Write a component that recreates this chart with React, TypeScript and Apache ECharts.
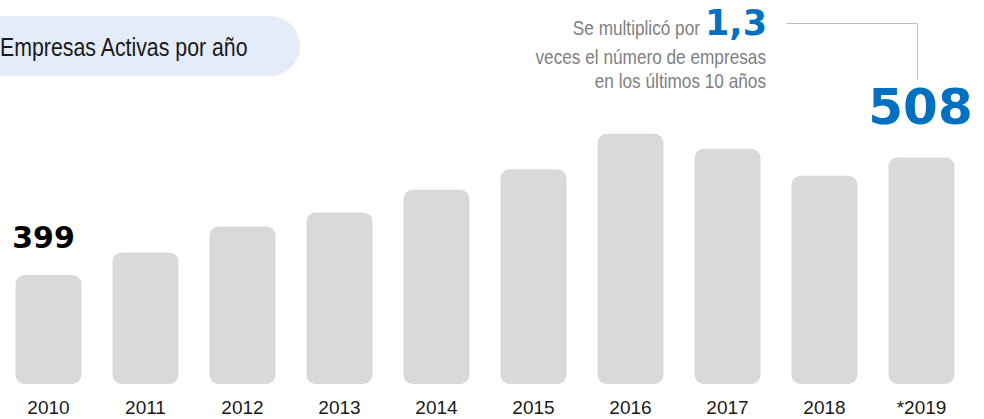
import React, { useEffect, useRef } from "react";
import * as echarts from "echarts";

const years = ["2010", "2011", "2012", "2013", "2014", "2015", "2016", "2017", "2018", "*2019"];
const empresas = [399, 420, 444, 457, 478, 497, 530, 516, 491, 508];
const titleText = "Empresas Activas por año";
const noteLine1 = "Se multiplicó por";
const noteFactor = "1,3";
const noteLine2 = "veces el número de empresas";
const noteLine3 = "en los últimos 10 años";

const SANS = '"Liberation Sans", Arial, sans-serif';
const HEAVY = '"DejaVu Sans", "Arial Black", sans-serif';
const NARROW_SCALE = 0.82;

export default function App() {
  const ref = useRef<HTMLDivElement>(null);
  useEffect(() => {
    if (!ref.current) return;
    const chart = echarts.init(ref.current, null, { renderer: "svg" });
    const last = empresas.length - 1;
    const data = empresas.map((v, i) => {
      if (i === 0) {
        return {
          value: v,
          label: {
            show: true,
            position: "top",
            distance: 23,
            offset: [-5, 0],
            color: "#000000",
            fontFamily: HEAVY,
            fontWeight: "bold",
            fontSize: 30,
          },
        };
      }
      if (i === last) {
        return {
          value: v,
          label: {
            show: true,
            position: "top",
            distance: 25,
            offset: [-1, 0],
            color: "#0070c0",
            fontFamily: HEAVY,
            fontWeight: "bold",
            fontSize: 50,
          },
        };
      }
      return v;
    });
    const noteText = (text: string, x: number, y: number) => ({
      type: "text",
      x,
      y,
      scaleX: NARROW_SCALE,
      style: {
        text,
        fill: "#7f7f7f",
        fontSize: 21,
        fontFamily: SANS,
        align: "right",
        verticalAlign: "middle",
      },
    });
    chart.setOption({
      animation: false,
      backgroundColor: "#ffffff",
      grid: { left: 0, right: 14, top: 0, bottom: 35, containLabel: false },
      xAxis: {
        type: "category",
        data: years,
        boundaryGap: true,
        axisLine: { show: false },
        axisTick: { show: false },
        axisLabel: {
          color: "#1a1a1a",
          fontSize: 19,
          fontFamily: SANS,
          margin: 14,
          interval: 0,
        },
      },
      yAxis: {
        type: "value",
        min: 298,
        max: 654,
        show: false,
        splitLine: { show: false },
      },
      series: [
        {
          type: "bar",
          data,
          barWidth: 66,
          itemStyle: { color: "#d9d9d9", borderRadius: 9 },
          label: { show: false },
        },
      ],
      graphic: [
        {
          type: "rect",
          shape: { x: -40, y: 16, width: 340, height: 60, r: 30 },
          style: { fill: "#e5ecf9" },
          z: -1,
        },
        {
          type: "text",
          x: 0,
          y: 46.5,
          scaleX: NARROW_SCALE,
          style: {
            text: titleText,
            fill: "#1a1a1a",
            fontSize: 26,
            fontFamily: SANS,
            align: "left",
            verticalAlign: "middle",
          },
        },
        noteText(noteLine1, 700, 28.2),
        {
          type: "text",
          x: 705,
          y: 23.4,
          style: {
            text: noteFactor,
            fill: "#0070c0",
            fontSize: 35,
            fontWeight: "bold",
            fontFamily: HEAVY,
            align: "left",
            verticalAlign: "middle",
          },
        },
        noteText(noteLine2, 766, 56.6),
        noteText(noteLine3, 766, 81),
        {
          type: "polyline",
          shape: { points: [[787, 23.5], [917.5, 23.5], [917.5, 80]] },
          style: { stroke: "#bfbfbf", lineWidth: 1, fill: "none" },
        },
      ],
    });
    return () => chart.dispose();
  }, []);
  return (
    <div
      ref={ref}
      style={{ position: "fixed", left: 0, top: 0, width: 984, height: 419 }}
    />
  );
}
